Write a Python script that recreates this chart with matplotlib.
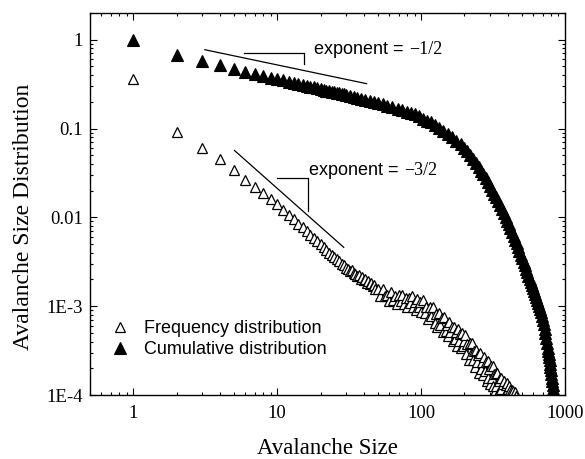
import matplotlib
matplotlib.use("Agg")
import matplotlib.pyplot as plt
from matplotlib.ticker import LogLocator, NullFormatter

# frequency distribution (open triangles)
freq_size = [1, 2, 3, 4, 5, 6, 7, 8, 9, 10, 11, 12, 13, 14, 15, 16, 17, 18, 19, 20,
             21, 22, 23, 24, 25, 26, 27, 28, 29, 30, 31, 32, 33, 34, 35, 36, 37, 38, 39, 40,
             41, 42, 43, 44, 45, 46, 47, 48,
             50, 52, 54, 56, 58, 60, 62, 64, 66, 68, 70, 72, 74, 76, 78, 80, 82, 84, 86, 88,
             90, 92, 94, 96, 98, 100, 103, 106, 109, 112, 115, 118, 121, 124, 127, 130, 133, 136, 139, 142,
             145, 148, 151, 154, 157, 160, 163, 166, 169, 172, 175, 178, 181, 184, 187, 190, 193, 196, 199, 202,
             206, 210, 214, 218, 222, 226, 230, 234, 238, 242, 246, 250, 254, 258, 262, 266, 270, 274, 278, 282,
             286, 290, 294, 298, 302, 306, 310, 314, 318, 322, 326, 330, 334, 338, 342, 346, 350, 354, 358, 362,
             366, 370, 374, 378, 382, 386, 390, 394, 398, 402, 406, 410, 414, 418, 422, 426, 432, 438, 444, 450,
             458]
freq_value = [0.365, 0.092, 0.061, 0.045, 0.034, 0.0266, 0.0218, 0.0186, 0.0159, 0.0140,
              0.0122, 0.0107, 0.0095, 0.0085, 0.0077, 0.0070, 0.0063, 0.0058, 0.0054, 0.0050,
              0.0046, 0.0043, 0.0040, 0.0038, 0.0036, 0.0034, 0.0032, 0.0030, 0.0029, 0.0027,
              0.00262, 0.00248, 0.00255, 0.00236, 0.00232, 0.00218, 0.00225, 0.00205, 0.00212, 0.00196,
              0.00201, 0.00184, 0.00192, 0.00176, 0.00181, 0.00168, 0.00174, 0.00158,
              0.00155, 0.00129, 0.00155, 0.00129, 0.00135, 0.00115, 0.00146, 0.00117, 0.00129, 0.00106,
              0.00132, 0.00114, 0.00135, 0.00106, 0.00123, 0.00098, 0.00125, 0.00108, 0.00129, 0.00097,
              0.00112, 0.00090, 0.00120, 0.00097, 0.00112, 0.00087, 0.00116, 0.00083, 0.00097, 0.00071,
              0.00099, 0.00078, 0.00097, 0.00065, 0.00081, 0.00059, 0.00083, 0.00062, 0.00074, 0.00051,
              0.00075, 0.00052, 0.00061, 0.00046, 0.00067, 0.00051, 0.00059, 0.00041, 0.00059, 0.00043,
              0.00051, 0.00036, 0.00056, 0.00041, 0.00049, 0.00034, 0.00050, 0.00036, 0.00041, 0.00048,
              0.00029, 0.00038, 0.00025, 0.00039, 0.00029, 0.00039, 0.000245, 0.00031, 0.000208, 0.000325,
              0.000238, 0.000282, 0.000177, 0.00030, 0.000198, 0.000237, 0.000167, 0.000265, 0.000187, 0.000234,
              0.000144, 0.000244, 0.000157, 0.000198, 0.000133, 0.00021, 0.000156, 0.00021, 0.000126, 0.000173,
              0.000111, 0.000176, 0.000127, 0.000179, 0.000105, 0.000145, 0.000093, 0.000156, 0.000116, 0.000157,
              0.0000887, 0.000132, 0.000098, 0.000143, 0.00008, 0.000128, 0.0000955, 0.000136, 0.00008, 0.000116,
              0.000102, 0.000126, 0.000078, 0.000113, 0.000084, 0.000114, 0.0000946, 0.000111, 0.0000937, 0.000107,
              0.0000964]

# cumulative distribution (filled triangles)
cum_size = [1, 2, 3, 4, 5, 6, 7, 8, 9, 10, 11, 12, 13, 14, 15, 16, 17, 18, 19, 20,
            21, 22, 23, 24, 25, 26, 27, 28, 29, 30, 32, 34, 36, 38, 41, 44, 47, 50, 54, 58,
            63, 69, 74, 80, 85, 90, 96, 103, 110, 117, 125, 134, 143, 153, 164, 176, 188, 200, 210, 220,
            230, 241, 251, 261, 271, 282, 292, 303, 313, 323, 334, 344, 355, 365, 376, 386, 397, 408, 418, 429,
            439, 450, 461, 471, 482, 493, 504, 515, 525, 536, 546, 556, 567, 577, 587, 597, 608, 618, 628, 639,
            649, 659, 670, 680, 690, 700, 711, 721, 731, 742, 752, 762, 767, 773, 778, 783, 788, 793, 798, 803,
            809, 814, 819, 824, 829, 834, 839, 845, 855]
cum_value = [1.0, 0.67, 0.58, 0.52, 0.47, 0.435, 0.41, 0.39, 0.375, 0.36,
             0.348, 0.337, 0.327, 0.318, 0.31, 0.303, 0.296, 0.29, 0.284, 0.278,
             0.273, 0.268, 0.264, 0.26, 0.256, 0.252, 0.249, 0.246, 0.243, 0.24,
             0.233, 0.2275, 0.222, 0.217, 0.210, 0.2036, 0.198, 0.1928, 0.1866, 0.1809,
             0.1746, 0.168, 0.1614, 0.1542, 0.149, 0.144, 0.1368, 0.1294, 0.1227, 0.117,
             0.1087, 0.1007, 0.0937, 0.087, 0.0794, 0.0723, 0.0662, 0.061, 0.0552, 0.0500,
             0.0453, 0.0410, 0.0372, 0.0336, 0.0305, 0.0276, 0.0249, 0.0226, 0.0205, 0.0185,
             0.0168, 0.0152, 0.0137, 0.0124, 0.0113, 0.0102, 0.0092, 0.0084, 0.00757, 0.00685,
             0.00621, 0.00562, 0.00509, 0.00462, 0.00419, 0.00380, 0.00347, 0.00316, 0.0029, 0.00263,
             0.00241, 0.00221, 0.00203, 0.00187, 0.00172, 0.00159, 0.00147, 0.00136, 0.00126, 0.00117,
             0.00109, 0.00101, 0.00094, 0.000857, 0.000778, 0.000701, 0.000628, 0.00056, 0.000496, 0.000437,
             0.000383, 0.000334, 0.00031, 0.000288, 0.000267, 0.000246, 0.000226, 0.000207, 0.00019, 0.000173,
             0.000157, 0.000143, 0.00013, 0.000117, 0.000106, 0.000095, 0.000085, 0.000076, 0.00006]

# guide lines and brackets for the exponent labels
guide_half_x = [3.14, 41.8]
guide_half_y = [0.772, 0.32]
bracket_half_x = [5.92, 15.4, 15.4]
bracket_half_y = [0.714, 0.714, 0.537]
guide_3half_x = [5.05, 29.0]
guide_3half_y = [0.0566, 0.0046]
bracket_3half_x = [10.0, 16.4, 16.4]
bracket_3half_y = [0.0274, 0.0274, 0.01167]

xtick_vals = [1, 10, 100, 1000]
xtick_labels = ['1', '10', '100', '1000']
ytick_vals = [1e-4, 1e-3, 0.01, 0.1, 1]
ytick_labels = ['1E-4', '1E-3', '0.01', '0.1', '1']

serif = 'Liberation Serif'
sans = 'Liberation Sans'

fig = plt.figure(figsize=(5.85, 4.59), dpi=100)
ax = fig.add_axes([0.1538, 0.1394, 0.8120, 0.8323])

ax.plot(freq_size, freq_value, '^', ms=7.5, mfc='white', mec='black', mew=0.9,
        ls='none', label='Frequency distribution')
ax.plot(cum_size, cum_value, '^', ms=8.5, color='black', mec='black', mew=0.8,
        ls='none', label='Cumulative distribution')

ax.plot(guide_half_x, guide_half_y, color='black', lw=0.9)
ax.plot(bracket_half_x, bracket_half_y, color='black', lw=0.9)
ax.plot(guide_3half_x, guide_3half_y, color='black', lw=0.9)
ax.plot(bracket_3half_x, bracket_3half_y, color='black', lw=0.9)

ax.set_xscale('log')
ax.set_yscale('log')
ax.set_xlim(0.5, 1000)
ax.set_ylim(1e-4, 2)

ax.set_xticks(xtick_vals, xtick_labels)
ax.set_yticks(ytick_vals, ytick_labels)
ax.xaxis.set_minor_locator(LogLocator(base=10, subs=range(2, 10), numticks=20))
ax.yaxis.set_minor_locator(LogLocator(base=10, subs=range(2, 10), numticks=20))
ax.xaxis.set_minor_formatter(NullFormatter())
ax.yaxis.set_minor_formatter(NullFormatter())
ax.tick_params(which='both', direction='in', top=True, right=True, width=0.8)
ax.tick_params(which='major', length=5, pad=5)
ax.tick_params(axis='x', which='major', pad=7)
ax.tick_params(which='minor', length=2.5)
for lab in ax.get_xticklabels() + ax.get_yticklabels():
    lab.set_family(serif)
    lab.set_fontsize(13.5)
for sp in ax.spines.values():
    sp.set_linewidth(1.0)

ax.set_xlabel('Avalanche Size', family=serif, fontsize=16.5, labelpad=12)
ax.set_ylabel('Avalanche Size Distribution', family=serif, fontsize=17)
ax.yaxis.set_label_coords(-0.117, 0.466)

t1 = ax.text(18.0, 0.772, 'exponent =', family=sans, fontsize=13, va='center', ha='left')
ax.annotate('\u22121/2', xy=(1, 0), xycoords=t1, xytext=(4, 0), textcoords='offset points',
            family=serif, fontsize=13, va='bottom', ha='left')
t2 = ax.text(16.6, 0.0337, 'exponent =', family=sans, fontsize=13, va='center', ha='left')
ax.annotate('\u22123/2', xy=(1, 0), xycoords=t2, xytext=(4, 0), textcoords='offset points',
            family=serif, fontsize=13, va='bottom', ha='left')

ax.legend(loc='lower left', bbox_to_anchor=(0.03, 0.078), frameon=False,
          prop={'family': sans, 'size': 13}, handlelength=1.0, handletextpad=0.8,
          labelspacing=0.2, borderaxespad=0)

fig.savefig('out.png', dpi=100)
